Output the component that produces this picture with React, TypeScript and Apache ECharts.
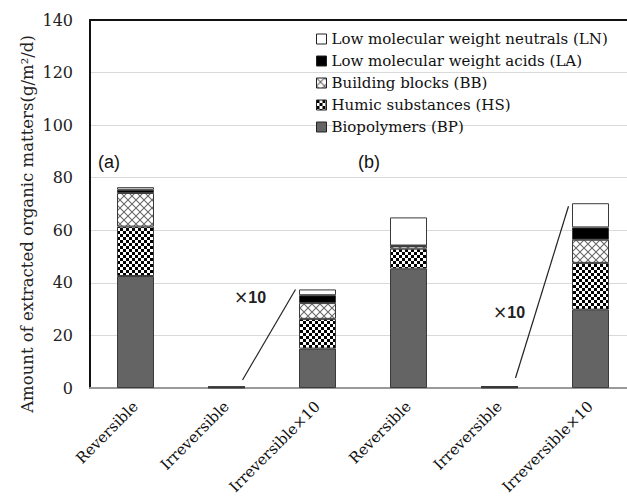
import React, { useEffect, useRef } from "react";
import * as echarts from "echarts";

const categories = ["Reversible", "Irreversible", "Irreversible×10", "Reversible", "Irreversible", "Irreversible×10"];
const seriesNames = [
  "Biopolymers (BP)",
  "Humic substances (HS)",
  "Building blocks (BB)",
  "Low molecular weight acids (LA)",
  "Low molecular weight neutrals (LN)",
];
const bpValues = [42.6, 0.15, 15.0, 45.4, 0.2, 29.8];
const hsValues = [18.8, 0.1, 11.3, 7.6, 0.15, 17.8];
const bbValues = [12.8, 0.06, 6.0, 1.0, 0.08, 8.8];
const laValues = [1.2, 0.03, 3.0, 0.2, 0.05, 4.7];
const lnValues = [1.0, 0.03, 2.2, 10.7, 0.1, 9.2];
const yTicks = { min: 0, max: 140, interval: 20 };

function makeChecker() {
  const c = document.createElement("canvas");
  c.width = 6;
  c.height = 6;
  const g = c.getContext("2d")!;
  g.fillStyle = "#ffffff";
  g.fillRect(0, 0, 6, 6);
  g.fillStyle = "#000000";
  g.fillRect(0, 0, 3, 3);
  g.fillRect(3, 3, 3, 3);
  return c;
}
function makeCross() {
  const c = document.createElement("canvas");
  c.width = 8;
  c.height = 8;
  const g = c.getContext("2d")!;
  g.fillStyle = "#ffffff";
  g.fillRect(0, 0, 8, 8);
  g.strokeStyle = "#6a6a6a";
  g.lineWidth = 1.1;
  g.beginPath();
  g.moveTo(0, 0);
  g.lineTo(8, 8);
  g.moveTo(8, 0);
  g.lineTo(0, 8);
  g.stroke();
  return c;
}

export default function App() {
  const ref = useRef<HTMLDivElement>(null);
  useEffect(() => {
    document.body.style.margin = "0";
    const chart = echarts.init(ref.current!, null, { renderer: "svg" });
    const checker = makeChecker();
    const cross = makeCross();
    const fills: any[] = [
      "#646464",
      { image: checker, repeat: "repeat", imageWidth: 6, imageHeight: 6 },
      { image: cross, repeat: "repeat", imageWidth: 8, imageHeight: 8 },
      "#000000",
      "#ffffff",
    ];
    const values = [bpValues, hsValues, bbValues, laValues, lnValues];
    const serif = "DejaVu Serif";
    chart.setOption({
      animation: false,
      backgroundColor: "#ffffff",
      grid: { left: 90, right: -9, top: 20, bottom: 116, containLabel: false, outerBoundsMode: "none" },
      legend: {
        orient: "vertical",
        left: 311,
        top: 26,
        icon: "rect",
        itemWidth: 10,
        itemHeight: 10,
        itemGap: 6,
        itemStyle: { borderColor: "#222", borderWidth: 1 },
        textStyle: { fontFamily: serif, fontSize: 15, lineHeight: 16, color: "#111" },
        data: [...seriesNames].reverse(),
      },
      xAxis: [
        {
          type: "category",
          data: categories,
          axisTick: { show: false },
          axisLine: { lineStyle: { color: "#9a9a9a", width: 2 } },
          axisLabel: { rotate: 45, margin: 16, fontFamily: serif, fontSize: 15, color: "#111", interval: 0 },
        },
        {
          type: "category",
          position: "top",
          data: categories,
          axisTick: { show: false },
          axisLabel: { show: false },
          axisLine: { lineStyle: { color: "#111", width: 2 } },
        },
      ],
      yAxis: {
        type: "value",
        min: yTicks.min,
        max: yTicks.max,
        interval: yTicks.interval,
        axisLine: { show: true, lineStyle: { color: "#111", width: 2 } },
        axisTick: { show: false },
        axisLabel: { margin: 17, fontFamily: serif, fontSize: 16, color: "#222" },
        splitLine: { lineStyle: { color: "#d9d9d9", width: 1 } },
      },
      series: seriesNames.map((name, i) => ({
        name,
        type: "bar",
        stack: "total",
        barWidth: 37,
        data: values[i],
        itemStyle: { color: fills[i], borderColor: "#3a3a3a", borderWidth: 1 },
      })),
    });
    const totals = categories.map((_, k) => values.reduce((s, arr) => s + arr[k], 0));
    const px = (i: number, v: number) => chart.convertToPixel({ xAxisIndex: 0, yAxisIndex: 0 }, [i, v]) as number[];
    const a0 = px(1, 0), a1 = px(2, totals[2]);
    const b0 = px(4, 0), b1 = px(5, totals[5]);
    const timesRich = {
      x: { fontFamily: "DejaVu Sans", fontSize: 17, fill: "#222" },
      n: { fontFamily: "Liberation Sans", fontSize: 16, fontWeight: "bold", fill: "#222" },
    };
    chart.setOption({
      graphic: [
        { type: "line", shape: { x1: a0[0] + 16, y1: a0[1] - 8, x2: a1[0] - 22, y2: a1[1] }, style: { stroke: "#222", lineWidth: 1.2 } },
        { type: "line", shape: { x1: b0[0] + 16, y1: b0[1] - 10, x2: b1[0] - 22, y2: b1[1] + 3 }, style: { stroke: "#222", lineWidth: 1.2 } },
        {
          type: "text",
          x: 27,
          y: 224,
          rotation: Math.PI / 2,
          style: {
            text: "Amount of extracted organic matters(g/m²/d)",
            fontFamily: serif,
            fontSize: 16.5,
            fill: "#222",
            align: "center",
            verticalAlign: "middle",
          },
        },
        { type: "text", x: 109, y: 162, style: { text: "(a)", fontFamily: "Liberation Sans", fontSize: 18, fill: "#111", align: "center", verticalAlign: "middle" } },
        { type: "text", x: 369, y: 162, style: { text: "(b)", fontFamily: "Liberation Sans", fontSize: 18, fill: "#111", align: "center", verticalAlign: "middle" } },
        { type: "text", x: 250, y: 297, style: { text: "{x|×}{n|10}", align: "center", verticalAlign: "middle", rich: timesRich } },
        { type: "text", x: 509, y: 312, style: { text: "{x|×}{n|10}", align: "center", verticalAlign: "middle", rich: timesRich } },
      ],
    });
    return () => chart.dispose();
  }, []);
  return <div ref={ref} style={{ width: 627, height: 504 }} />;
}
